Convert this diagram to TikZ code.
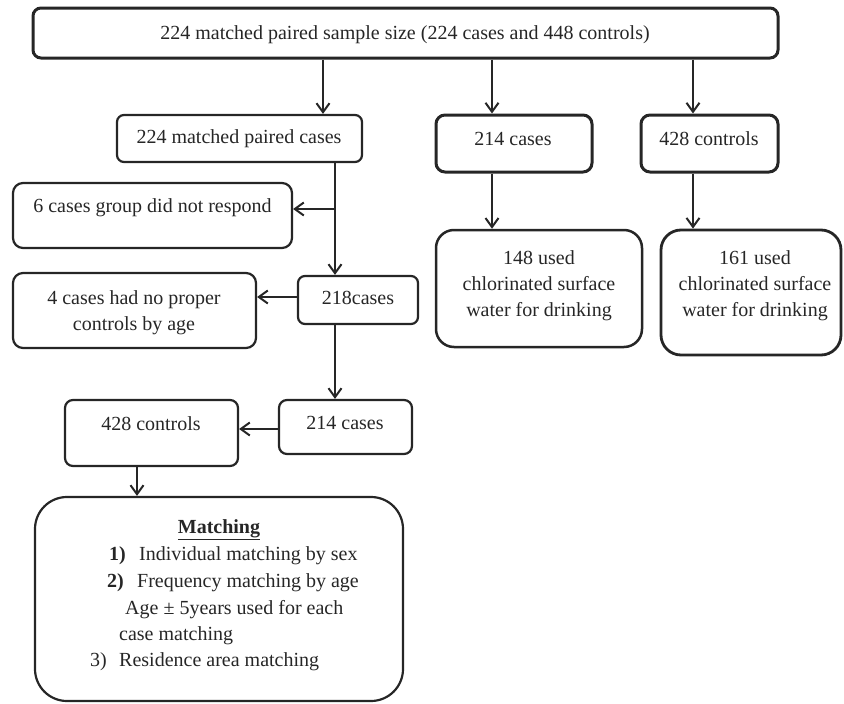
\documentclass[tikz,border=0pt]{standalone}
\usepackage{fontspec}
\setmainfont{Liberation Serif}
\usetikzlibrary{arrows.meta}
\tikzset{
  box/.style={draw, line width=2.2pt, rounded corners=8pt, inner sep=0pt, color=black!85},
  thickbox/.style={box, line width=3pt},
  txt/.style={anchor=base, inner sep=0pt, font=\fontsize{20}{26}\selectfont, text=black!85, align=center},
  ltxt/.style={anchor=base west, inner sep=0pt, font=\fontsize{20}{26}\selectfont, text=black!85},
  arr/.style={draw=black!85, line width=2pt, -{Straight Barb[length=9pt,width=13pt,line width=2pt]}},
  conn/.style={draw=black!85, line width=2pt}
}
\begin{document}
\begin{tikzpicture}[x=1pt,y=-1pt]
\useasboundingbox (0,0) rectangle (844,704);
% boxes
\node[thickbox, minimum width=745pt, minimum height=50pt] (top) at (405.5,33) {};
\node[box, rounded corners=7pt, minimum width=245pt, minimum height=47pt] (A) at (239.5,138.5) {};
\node[thickbox, rounded corners=9pt, minimum width=156pt, minimum height=57pt] (B) at (514,143.5) {};
\node[thickbox, rounded corners=9pt, minimum width=137pt, minimum height=57pt] (C) at (709.5,143.5) {};
\node[box, rounded corners=10pt, minimum width=279pt, minimum height=65pt] (D) at (152.5,215.5) {};
\node[box, rounded corners=7pt, minimum width=120pt, minimum height=48pt] (E) at (358,300) {};
\node[box, rounded corners=10pt, minimum width=243pt, minimum height=75pt] (F) at (134.5,310.5) {};
\node[box, line width=2.5pt, rounded corners=18pt, minimum width=206pt, minimum height=117pt] (G) at (539,288.5) {};
\node[box, line width=2.8pt, rounded corners=20pt, minimum width=180pt, minimum height=125pt] (H) at (751,292.5) {};
\node[box, rounded corners=8pt, minimum width=133pt, minimum height=54pt] (I) at (345.5,427) {};
\node[box, rounded corners=8pt, minimum width=173pt, minimum height=66pt] (J) at (151.5,433) {};
\node[box, rounded corners=32pt, minimum width=368pt, minimum height=204pt] (K) at (219,599) {};
% texts (base = baseline of last line)
\node[txt] (topt) at (405,39) {224 matched paired sample size (224 cases and 448 controls)};
\node[txt] (At) at (239,143) {224 matched paired cases};
\node[txt] (Bt) at (513,145.5) {214 cases};
\node[txt] (Ct) at (709,145) {428 controls};
\node[txt] (Dt) at (152.5,212) {6 cases group did not respond};
\node[txt] (Et) at (358,304) {218cases};
\node[txt] (Ft) at (134,330) {4 cases had no proper\\controls by age};
\node[txt] (Gt) at (539,316.5) {148 used\\chlorinated surface\\water for drinking};
\node[txt] (Ht) at (755,316.5) {161 used\\chlorinated surface\\water for drinking};
\node[txt] (It) at (345,429) {214 cases};
\node[txt] (Jt) at (151,430.5) {428 controls};
\node[txt] (Kh) at (219,533) {\underline{\textbf{Matching}}};
\node[ltxt] (K1n) at (109,560.5) {\textbf{1)}};
\node[ltxt] (K1) at (139,560.5) {Individual matching by sex};
\node[ltxt] (K2n) at (107,587.5) {\textbf{2)}};
\node[ltxt] (K2) at (137,587.5) {Frequency matching by age};
\node[ltxt] (K3) at (125,614) {Age ± 5years used for each};
\node[ltxt] (K4) at (119,640) {case matching};
\node[ltxt] (K5n) at (90,666.5) {3)};
\node[ltxt] (K5) at (119,666.5) {Residence area matching};
% columns
\coordinate (c1) at (323,0);
\coordinate (c2) at (335,0);
\coordinate (c3) at (492,0);
\coordinate (c4) at (693,0);
\coordinate (c5) at (137,0);
\coordinate (r2) at (0,297);
\coordinate (r3) at (0,429);
\coordinate (br) at (335,209);
% connectors
\draw[arr] (top.south -| c1) -- (A.north -| c1);
\draw[arr] (top.south -| c3) -- (B.north -| c3);
\draw[arr] (top.south -| c4) -- (C.north -| c4);
\draw[arr] (A.south -| c2) -- (E.north -| c2);
\draw[arr] (br) -- (D.east |- br);
\draw[arr] (E.west |- r2) -- (F.east |- r2);
\draw[arr] (E.south -| c2) -- (I.north -| c2);
\draw[arr] (I.west |- r3) -- (J.east |- r3);
\draw[arr] (J.south -| c5) -- (K.north -| c5);
\draw[arr] (B.south -| c3) -- (G.north -| c3);
\draw[arr] (C.south -| c4) -- (H.north -| c4);
\end{tikzpicture}
\end{document}
